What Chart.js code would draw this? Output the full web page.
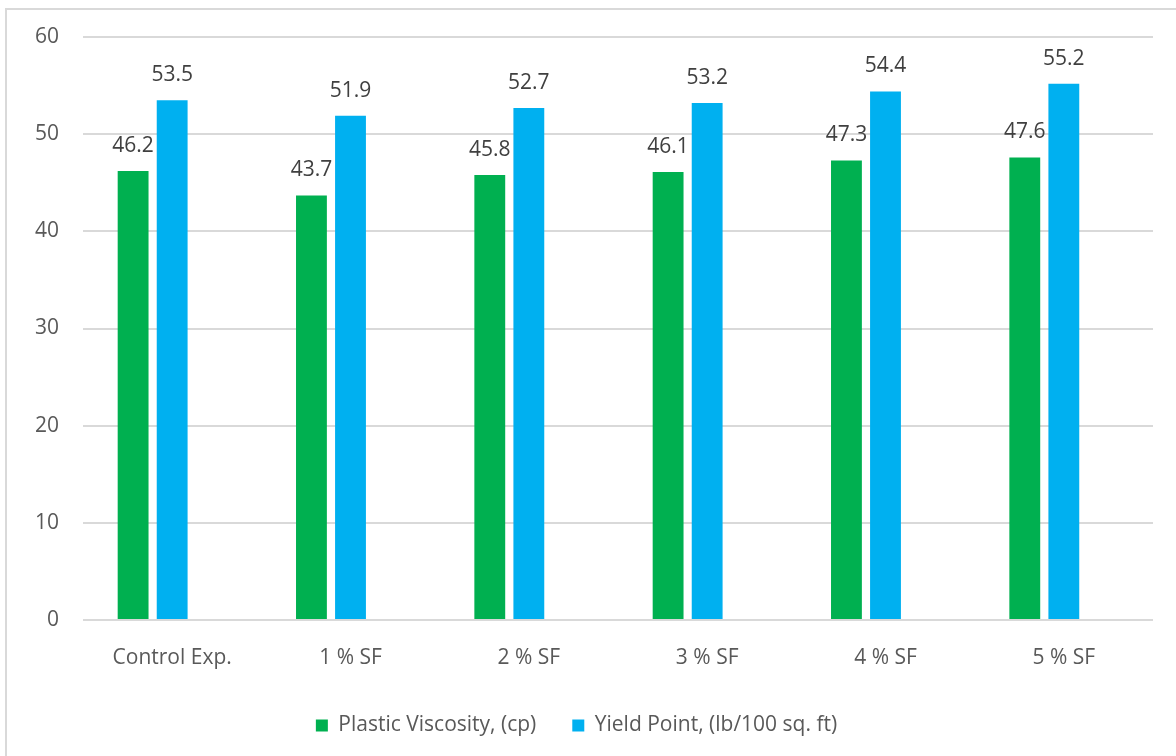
<!DOCTYPE html>
<html>
<head>
<meta charset="utf-8">
<script src="https://cdn.jsdelivr.net/npm/chart.js@4.4.1/dist/chart.umd.min.js"></script>
<style>
  html, body { margin: 0; padding: 0; background: #fff; overflow: hidden; }
  #frame { position: absolute; left: 5px; top: 8px; width: 1300px; height: 900px; border: 2px solid #d9d9d9; }
  #wrap { position: absolute; left: 0; top: 0; width: 1176px; height: 764px; }
</style>
</head>
<body>
<div id="frame"></div>
<div id="wrap"><canvas id="chart" width="1176" height="764"></canvas></div>
<script>
// values
const categories = ['Control Exp.', '1 % SF', '2 % SF', '3 % SF', '4 % SF', '5 % SF'];
const plasticViscosity = [46.2, 43.7, 45.8, 46.1, 47.3, 47.6];
const yieldPoint = [53.5, 51.9, 52.7, 53.2, 54.4, 55.2];
const yTicks = [0, 10, 20, 30, 40, 50, 60];

const FONT = "'Open Sans', 'Noto Sans', sans-serif";

// numbers above each bar
const barLabels = {
  id: 'barLabels',
  afterDatasetsDraw(chart) {
    const ctx = chart.ctx;
    ctx.save();
    ctx.font = '21px ' + FONT;
    ctx.fillStyle = '#404040';
    ctx.textAlign = 'center';
    ctx.textBaseline = 'middle';
    chart.data.datasets.forEach((ds, i) => {
      const meta = chart.getDatasetMeta(i);
      meta.data.forEach((bar, j) => {
        if (ds.data[j] == null) return;
        ctx.fillText(ds.data[j].toFixed(1), bar.x, bar.y - 25);
      });
    });
    ctx.restore();
  }
};

new Chart(document.getElementById('chart').getContext('2d'), {
  type: 'bar',
  data: {
    labels: categories,
    datasets: [
      {
        label: 'Plastic Viscosity, (cp)',
        data: plasticViscosity,
        backgroundColor: '#00B050',
        categoryPercentage: 0.657,
        barPercentage: 0.79,
      },
      {
        label: 'Yield Point, (lb/100 sq. ft)',
        data: yieldPoint,
        backgroundColor: '#00B0F0',
        categoryPercentage: 0.657,
        barPercentage: 0.79,
      },
      {
        // empty third series, keeps the bars off-centre like the original
        label: '',
        data: [],
        backgroundColor: '#ffffff',
        categoryPercentage: 0.657,
        barPercentage: 0.79,
      },
    ],
  },
  options: {
    responsive: false,
    animation: false,
    layout: { padding: { left: 0, top: 37, right: 23, bottom: 18 } },
    scales: {
      x: {
        grid: { display: false, drawTicks: false },
        border: { display: false },
        ticks: { color: '#595959', font: { family: FONT, size: 21 }, padding: 25, maxRotation: 0 },
        afterFit: (scale) => { scale.height = 59; },
      },
      y: {
        min: 0,
        max: 60,
        afterBuildTicks: (scale) => { scale.ticks = yTicks.map(v => ({ value: v })); },
        grid: { color: '#d9d9d9', lineWidth: 2, drawTicks: false },
        border: { display: false },
        ticks: { color: '#595959', font: { family: FONT, size: 21 }, padding: 24 },
        afterFit: (scale) => { scale.width = 83; },
      },
    },
    plugins: {
      legend: {
        position: 'bottom',
        labels: {
          color: '#595959',
          font: { family: FONT, size: 21 },
          boxWidth: 12,
          boxHeight: 12,
          padding: 36,
          filter: (item) => item.text !== '',
        },
      },
      tooltip: { enabled: false },
    },
  },
  plugins: [barLabels],
});
</script>
</body>
</html>
